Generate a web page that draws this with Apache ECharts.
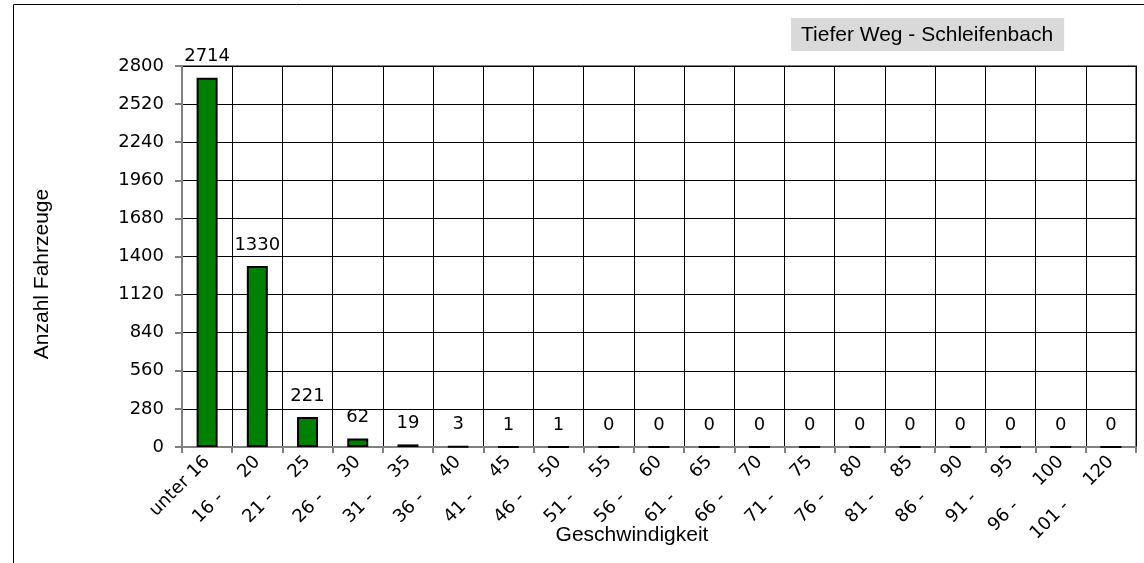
<html>
<head>
    <meta charset="UTF-8">
    <title>Geschwindigkeit</title>
    <script src="https://cdn.jsdelivr.net/npm/echarts@6/dist/echarts.min.js"></script>
    <style>
        body { padding: 0; margin: 0; overflow: hidden; background: #fff; }
        #chart { width: 1144px; height: 563px; }
    </style>
</head>
<body>
<div id="chart"></div>
<script>
    const categories = ['unter 16', '16 -     20', '21 -     25', '26 -     30', '31 -     35', '36 -     40',
        '41 -     45', '46 -     50', '51 -     55', '56 -     60', '61 -     65', '66 -     70', '71 -     75',
        '76 -     80', '81 -     85', '86 -     90', '91 -     95', '96 -     100', '101 -     120'];
    const counts = [2714, 1330, 221, 62, 19, 3, 1, 1, 0, 0, 0, 0, 0, 0, 0, 0, 0, 0, 0];
    const yTicks = [0, 280, 560, 840, 1120, 1400, 1680, 1960, 2240, 2520, 2800];

    const font = 'Liberation Sans, Arial, sans-serif';
    const numFont = 'DejaVu Sans, sans-serif';
    const ec = echarts.init(document.getElementById('chart'), null, {renderer: 'canvas'});

    const option = {
        animation: false,
        backgroundColor: '#fff',
        title: {
            text: 'Tiefer Weg - Schleifenbach',
            left: 791,
            top: 18,
            padding: [5, 11, 4, 10],
            backgroundColor: '#d9d9d9',
            textStyle: {fontFamily: font, fontSize: 21, fontWeight: 'normal', color: '#000', lineHeight: 24}
        },
        grid: {
            left: 182, right: 8, top: 66, bottom: 116,
            show: true, borderColor: '#808080', borderWidth: 2
        },
        xAxis: {
            type: 'category',
            data: categories,
            boundaryGap: true,
            axisLine: {lineStyle: {color: '#808080', width: 2}},
            axisTick: {show: true, length: 6, lineStyle: {color: '#808080', width: 2}},
            splitLine: {show: true, lineStyle: {color: '#000', width: 1}},
            axisLabel: {
                interval: 0, rotate: 45, margin: 12,
                fontFamily: numFont, fontSize: 18, color: '#000'
            }
        },
        yAxis: {
            type: 'value',
            min: yTicks[0],
            max: yTicks[yTicks.length - 1],
            interval: 280,
            axisLine: {show: true, lineStyle: {color: '#808080', width: 2}},
            axisTick: {show: true, length: 7, lineStyle: {color: '#808080', width: 2}},
            splitLine: {show: true, lineStyle: {color: '#000', width: 1}},
            axisLabel: {
                margin: 18, fontFamily: numFont, fontSize: 18, color: '#000',
                formatter: v => String(v)
            }
        },
        series: [{
            type: 'bar',
            data: counts,
            barWidth: 21,
            itemStyle: {color: '#008000', borderColor: '#000', borderWidth: 2},
            label: {
                show: true, position: 'top', distance: 12,
                fontFamily: numFont, fontSize: 18, color: '#000'
            }
        }],
        graphic: [
            {
                type: 'rect', silent: true,
                shape: {x: 13.5, y: 4.5, width: 1300, height: 700},
                style: {fill: 'none', stroke: '#000', lineWidth: 1}
            },
            {
                type: 'text', x: 42, y: 274, rotation: Math.PI / 2,
                style: {text: 'Anzahl Fahrzeuge', font: '21px ' + font, fill: '#000', align: 'center', verticalAlign: 'middle'}
            },
            {
                type: 'text', x: 632, y: 535,
                style: {text: 'Geschwindigkeit', font: '21px ' + font, fill: '#000', align: 'center', verticalAlign: 'middle'}
            }
        ]
    };
    ec.setOption(option);
</script>
</body>
</html>
